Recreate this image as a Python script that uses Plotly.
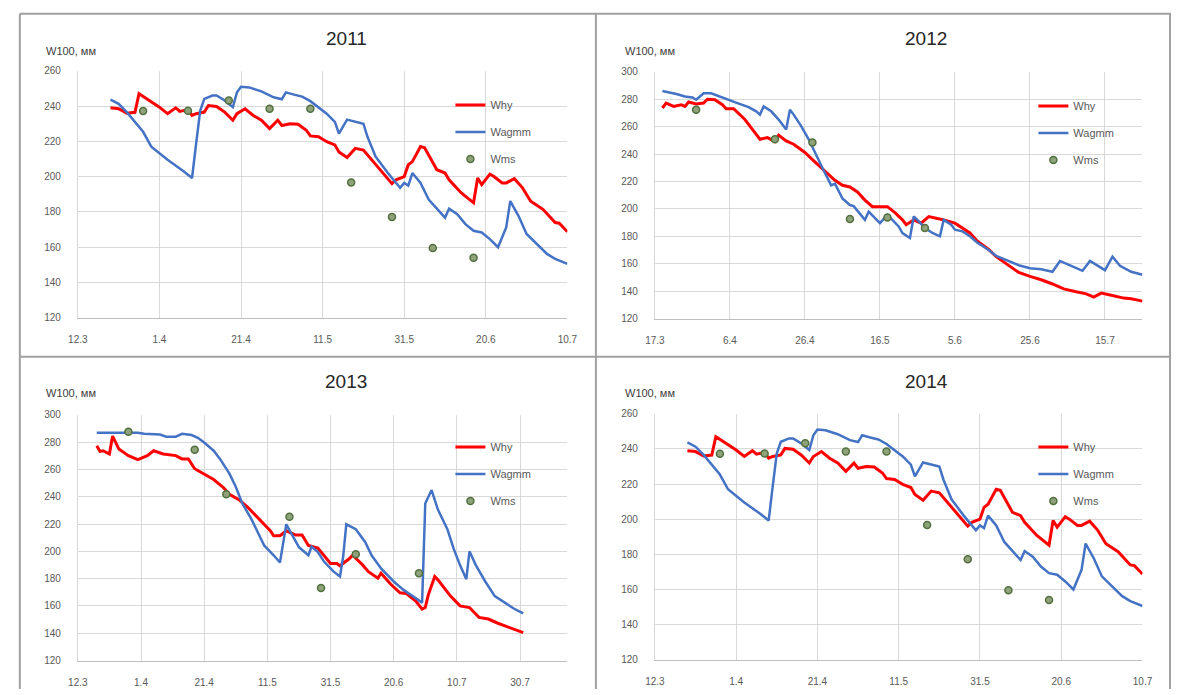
import plotly.graph_objects as go

# ---------------- DATA ----------------
# 2011
why_2011_dates = ["20.3", "22.3", "24.3", "26.3", "27.3", "29.3", "1.4", "3.4", "5.4", "6.4", "8.4", "9.4",
                  "10.4", "12.4", "13.4", "15.4", "17.4", "19.4", "20.4", "22.4", "24.4", "26.4", "28.4",
                  "30.4", "1.5", "3.5", "5.5", "7.5", "8.5", "10.5", "12.5", "14.5", "15.5", "17.5", "19.5",
                  "21.5", "23.5", "25.5", "27.5", "28.5", "29.5", "31.5", "1.6", "2.6", "4.6", "5.6", "8.6",
                  "10.6", "11.6", "14.6", "17.6", "18.6", "19.6", "21.6", "22.6", "24.6", "25.6", "27.6",
                  "29.6", "1.7", "4.7", "7.7", "8.7", "10.7"]
why_2011 = [239, 238.5, 236, 236.5, 247, 244, 239.4, 235.7, 239, 237, 238, 234.7,
            235.7, 236.6, 240.3, 239.8, 236.6, 232, 235.7, 238.5, 234.7, 232, 227.2,
            232, 229, 230, 229.7, 226.3, 223.1, 222.6, 219.8, 218, 214, 210.8, 216,
            215, 209.5, 203.9, 198.8, 196, 198.2, 200, 206.7, 208.5, 217, 216.4, 203.9,
            202, 198.2, 190.7, 185.1, 199.2, 195.4, 201.4, 200, 196.4, 196.4, 198.8,
            193.6, 186, 181.4, 173.9, 173.5, 168.7]
wagmm_2011_dates = ["20.3", "22.3", "24.3", "28.3", "30.3", "3.4", "7.4", "9.4", "10.4", "11.4", "12.4",
                    "14.4", "15.4", "17.4", "19.4", "20.4", "21.4", "23.4", "26.4", "29.4", "1.5", "2.5",
                    "4.5", "6.5", "8.5", "10.5", "12.5", "14.5", "15.5", "17.5", "19.5", "21.5", "22.5",
                    "24.5", "27.5", "29.5", "30.5", "31.5", "1.6", "2.6", "4.6", "6.6", "9.6", "10.6",
                    "11.6", "13.6", "15.6", "17.6", "19.6", "21.6", "23.6", "25.6", "26.6", "28.6",
                    "30.6", "3.7", "5.7", "7.7", "10.7"]
wagmm_2011 = [243.7, 241.3, 236.6, 225.4, 217, 209.5, 202.9, 199.2, 218.8, 237.5, 244.1,
              246, 246, 243.2, 239.4, 247.8, 251, 250.6, 248.4, 245, 243.9, 247.8,
              246.5, 245.4, 242.8, 239.4, 235.7, 231, 224.4, 232.3, 231, 230, 222.6,
              211.3, 202, 196.4, 193.6, 196.4, 194.9, 202, 196.4, 187, 179.5, 176.7,
              181.8, 178.6, 173, 169.2, 168.3, 164.5, 159.9, 171.1, 186.1, 177.7,
              167.4, 160.8, 156.1, 153.3, 150.5]
wms_2011_dates = ["28.3", "8.4", "18.4", "28.4", "8.5", "18.5", "28.5", "7.6", "17.6"]
wms_2011 = [237.2, 237.4, 243.2, 238.5, 238.5, 196.7, 177.1, 159.5, 153.9]

# 2012
why_2012_dates = ["19.3", "20.3", "22.3", "24.3", "25.3", "26.3", "28.3", "30.3", "31.3", "2.4", "4.4",
                  "5.4", "7.4", "8.4", "10.4", "12.4", "14.4", "16.4", "18.4", "19.4", "21.4", "23.4",
                  "26.4", "28.4", "30.4", "2.5", "4.5", "6.5", "8.5", "10.5", "12.5", "14.5", "16.5",
                  "18.5", "20.5", "22.5", "23.5", "25.5", "27.5", "29.5", "31.5", "2.6", "5.6", "7.6",
                  "9.6", "11.6", "14.6", "16.6", "19.6", "22.6", "25.6", "28.6", "1.7", "4.7", "7.7",
                  "10.7", "12.7", "14.7", "17.7", "20.7", "22.7", "25.7"]
why_2012 = [273.6, 277.2, 274.8, 276, 274.8, 278, 276.5, 277.2, 280, 279.6, 276,
            273.1, 273.1, 270.7, 265.2, 258, 250.8, 252, 249.1, 253.7, 249.6, 247.2,
            241.2, 235.9, 231.1, 225.6, 220.8, 217.2, 216, 212.4, 206.4, 201.6, 201.6,
            201.6, 197.3, 192, 188.4, 192, 189.6, 194.4, 193.2, 192, 189.6, 186,
            182.4, 176.4, 170.4, 165.1, 159.6, 153.6, 150.7, 148.3, 145.2, 141.6, 139.7,
            138, 135.6, 138.5, 136.8, 134.9, 134.4, 132.7]
wagmm_2012_dates = ["19.3", "21.3", "23.3", "25.3", "27.3", "28.3", "30.3", "1.4", "3.4", "6.4", "8.4",
                    "11.4", "13.4", "14.4", "15.4", "17.4", "19.4", "21.4", "22.4", "23.4", "25.4",
                    "27.4", "29.4", "1.5", "3.5", "4.5", "6.5", "8.5", "9.5", "12.5", "13.5", "15.5",
                    "16.5", "18.5", "21.5", "22.5", "24.5", "25.5", "26.5", "28.5", "30.5", "1.6",
                    "2.6", "4.6", "5.6", "7.6", "9.6", "11.6", "14.6", "16.6", "19.6", "22.6", "25.6",
                    "28.6", "1.7", "3.7", "6.7", "9.7", "11.7", "13.7", "15.7", "17.7", "19.7", "22.7",
                    "25.7"]
wagmm_2012 = [286, 284.9, 283.7, 282, 281.3, 279.6, 284.4, 284.4, 282.5, 279.6, 277.2,
              274.3, 271.2, 268.8, 274.8, 271.2, 265.2, 258, 272.4, 268.8, 260.4,
              250.8, 238.8, 228, 217.2, 218.4, 207.6, 202.8, 202, 192, 198, 192,
              189.6, 195.6, 187.2, 182.4, 178.8, 194.4, 192, 186, 182.4, 180,
              192, 188.4, 184.8, 183.6, 180, 175.2, 170, 165.6, 162, 158.9, 156.7,
              156, 154.1, 162, 158.4, 154.8, 162, 158.4, 155.3, 165.1, 158.4, 154.1,
              151.9]
wms_2012_dates = ["28.3", "18.4", "28.4", "8.5", "18.5", "28.5"]
wms_2012 = [272.4, 250.8, 248.4, 192.7, 193.7, 186]

# 2013
why_2013_dates = ["18.3", "19.3", "20.3", "22.3", "23.3", "25.3", "28.3", "31.3", "3.4", "5.4", "8.4",
                  "12.4", "14.4", "16.4", "18.4", "21.4", "24.4", "27.4", "29.4", "2.5", "5.5", "8.5",
                  "12.5", "13.5", "15.5", "17.5", "20.5", "22.5", "24.5", "27.5", "29.5", "31.5",
                  "2.6", "3.6", "6.6", "7.6", "10.6", "12.6", "15.6", "16.6", "19.6", "22.6", "24.6",
                  "27.6", "29.6", "30.6", "1.7", "3.7", "4.7", "8.7", "11.7", "14.7", "17.7", "20.7",
                  "23.7", "27.7", "31.7"]
why_2013 = [277.3, 273.2, 273.7, 271.3, 284.4, 274.9, 270.1, 267.2, 270.1, 273.7, 271.3,
            270.1, 267.7, 267.7, 260.5, 256.4, 252.6, 246.9, 241.8, 237.8, 231.8, 224.6,
            215, 211.4, 211.4, 215, 211.9, 211.9, 204.3, 202.3, 197.1, 191.1,
            191.1, 189.4, 194.7, 197.1, 190.4, 185.1, 180.3, 183.9, 176, 169.6, 169.1,
            163.6, 157.6, 158.8, 168.4, 181.5, 179.1, 167.2, 160, 158.8, 151.6, 150.4,
            147.3, 144, 140.4]
wagmm_2013_dates = ["18.3", "26.3", "31.3", "2.4", "7.4", "9.4", "12.4", "14.4", "17.4", "19.4", "21.4",
                    "24.4", "26.4", "29.4", "1.5", "3.5", "6.5", "8.5", "10.5", "13.5", "15.5", "17.5",
                    "19.5", "21.5", "24.5", "25.5", "27.5", "29.5", "1.6", "3.6", "4.6", "5.6", "8.6",
                    "11.6", "13.6", "16.6", "20.6", "23.6", "26.6", "29.6", "30.6", "2.7", "4.7", "7.7",
                    "9.7", "11.7", "13.7", "14.7", "16.7", "19.7", "22.7", "26.7", "28.7", "31.7"]
wagmm_2013 = [286.8, 286.8, 286.8, 286.1, 285.6, 284, 284, 286.1, 285.2, 283.2, 279.7,
              273.7, 267.7, 256.9, 247.3, 235.4, 223.4, 213.8, 204.3, 197.1, 191.8, 219.8,
              211.4, 203.1, 197.1, 203.5, 199.5, 192.3, 185.1, 181.5, 196, 219.8, 216.2,
              206.7, 197.1, 187.5, 177.9, 171.9, 167.2, 162.4, 235, 244.9, 230.6, 216.2,
              201.9, 189.9, 179.6, 200, 189.9, 177.9, 167.2, 161.2, 158.1, 154.5]
wms_2013_dates = ["28.3", "18.4", "28.4", "18.5", "28.5", "8.6", "28.6"]
wms_2013 = [287.6, 274.4, 241.8, 225.3, 173.1, 197.8, 183.9]

# 2014 (panel shows the same curves as 2011)
why_2014_dates = list(why_2011_dates)
why_2014 = list(why_2011)
wagmm_2014_dates = list(wagmm_2011_dates)
wagmm_2014 = list(wagmm_2011)
wms_2014_dates = list(wms_2011_dates)
wms_2014 = list(wms_2011)

years = [2011, 2012, 2013, 2014]
x_start = ["2011-03-12", "2012-03-17", "2013-03-12", "2014-03-12"]
x_end = ["2011-07-10", "2012-07-25", "2013-08-14", "2014-07-10"]
y_max = [260, 300, 300, 260]
y_min = 120
y_label = "W100, мм"
series_names = ["Why", "Wagmm", "Wms"]

panels = {
    2011: (why_2011_dates, why_2011, wagmm_2011_dates, wagmm_2011, wms_2011_dates, wms_2011),
    2012: (why_2012_dates, why_2012, wagmm_2012_dates, wagmm_2012, wms_2012_dates, wms_2012),
    2013: (why_2013_dates, why_2013, wagmm_2013_dates, wagmm_2013, wms_2013_dates, wms_2013),
    2014: (why_2014_dates, why_2014, wagmm_2014_dates, wagmm_2014, wms_2014_dates, wms_2014),
}

# ---------------- LAYOUT HELPERS ----------------
W, H = 1181, 695


def px(p):
    return p / W


def py(p):
    return 1 - p / H


def to_dates(year, labels):
    out = []
    for s in labels:
        d, m = s.split(".")
        out.append(f"{year}-{int(m):02d}-{int(d):02d}")
    return out


# plot areas in pixels: (left, right, top, bottom)
areas = [(69, 567, 66, 317), (656, 1152, 67, 318), (69, 567, 416, 666), (656, 1152, 415, 665)]
legend_pos = [(448, 86), (1041, 87), (448, 434), (1041, 434)]
title_pos = [(342, 33), (932, 33), (342, 382), (932, 382)]
ylab_pos = [(35, 46), (624, 46), (35, 394), (624, 394)]

RED = "#ff0000"
BLUE = "#4472c4"
GRID = "#d9d9d9"
TXT = "#595959"
FONT = "Liberation Sans"

fig = go.Figure()
layout = dict(
    autosize=True, margin=dict(l=0, r=0, t=0, b=0),
    paper_bgcolor="white", plot_bgcolor="white",
    font=dict(family=FONT, size=10, color=TXT),
    showlegend=True,
)
annotations = []
shapes = []

for i, yr in enumerate(years):
    n = "" if i == 0 else str(i + 1)
    xa, ya = "x" + n, "y" + n
    leg = "legend" if i == 0 else f"legend{i + 1}"
    wd, wv, ad, av, md, mv = panels[yr]
    fig.add_trace(go.Scatter(x=to_dates(yr, wd), y=wv, mode="lines", name=series_names[0],
                             line=dict(color=RED, width=3), xaxis=xa, yaxis=ya,
                             legend=leg, legendgroup=f"a{i}"))
    fig.add_trace(go.Scatter(x=to_dates(yr, ad), y=av, mode="lines", name=series_names[1],
                             line=dict(color=BLUE, width=2.5), xaxis=xa, yaxis=ya,
                             legend=leg, legendgroup=f"b{i}"))
    fig.add_trace(go.Scatter(x=to_dates(yr, md), y=mv, mode="markers", name=series_names[2],
                             marker=dict(size=7, color="#8fa27a", line=dict(color="#52703f", width=1.5)),
                             xaxis=xa, yaxis=ya, legend=leg, legendgroup=f"c{i}"))
    l, r, t, b = areas[i]
    layout["xaxis" + n] = dict(
        domain=[px(l), px(r)], anchor=ya, type="date",
        range=[x_start[i], x_end[i]], tick0=x_start[i], dtick=20 * 86400000,
        tickformat="%-d.%-m", showgrid=True, gridcolor=GRID, gridwidth=1,
        showline=True, linecolor="#bfbfbf", linewidth=1, ticks="",
        tickfont=dict(size=10, color=TXT, family=FONT), ticklabelstandoff=12,
        zeroline=False, fixedrange=True,
    )
    layout["yaxis" + n] = dict(
        domain=[py(b), py(t)], anchor=xa, range=[y_min, y_max[i]], dtick=20, tick0=120,
        showgrid=True, gridcolor=GRID, gridwidth=1, showline=True, linecolor=GRID,
        linewidth=1, ticks="", tickfont=dict(size=10, color=TXT, family=FONT),
        ticklabelstandoff=14, zeroline=False, fixedrange=True,
    )
    lx, ly = legend_pos[i]
    layout[leg] = dict(
        x=px(lx), y=py(ly), xanchor="left", yanchor="top", bgcolor="rgba(0,0,0,0)",
        font=dict(size=11, color=TXT, family=FONT), tracegroupgap=8,
        itemwidth=30, traceorder="grouped",
    )
    tx, ty = title_pos[i]
    annotations.append(dict(text=str(yr), x=px(tx), y=py(ty), xref="paper", yref="paper",
                            showarrow=False, xanchor="center", yanchor="middle",
                            font=dict(size=19, color="#262626", family=FONT)))
    yx, yy = ylab_pos[i]
    annotations.append(dict(text=y_label, x=px(yx), y=py(yy), xref="paper", yref="paper",
                            showarrow=False, xanchor="left", yanchor="middle",
                            font=dict(size=11, color="#404040", family=FONT)))

# panel frames
BORDER = "#a0a0a0"
for (x0, y0, x1, y1) in [(10, 8, 10, 695), (10, 8, 1181, 8), (596, 8, 596, 695),
                         (10, 357, 1181, 357), (1180, 8, 1180, 695)]:
    shapes.append(dict(type="line", xref="paper", yref="paper", x0=px(x0), y0=py(y0),
                       x1=px(x1), y1=py(y1), line=dict(color=BORDER, width=2)))

layout["annotations"] = annotations
layout["shapes"] = shapes
fig.update_layout(**layout)
fig.write_html(
    "out.html",
    default_width=f"{W}px;position:absolute;left:0;top:0",
    default_height=f"{H}px",
    config={"displayModeBar": False},
    post_script="document.body.style.margin='0';document.body.style.overflow='hidden';",
)
